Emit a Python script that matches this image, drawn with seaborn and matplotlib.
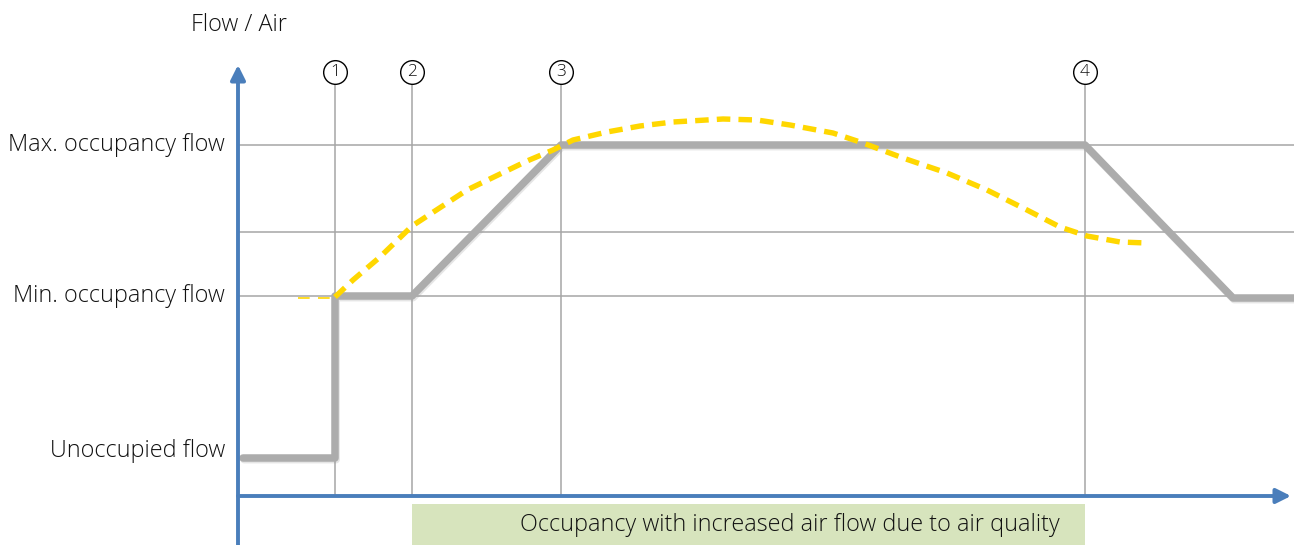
import numpy as np
import pandas as pd
import matplotlib
matplotlib.use("Agg")
import matplotlib.pyplot as plt
import matplotlib.patheffects as pe
from matplotlib.patches import Rectangle
import seaborn as sns

# Niveles de caudal (unidades del esquema: altura sobre el eje x)
level_names = ["Unoccupied flow", "Min. occupancy flow", "Max. occupancy flow"]
level_values = [38, 200, 351]
mid_level = 264

# Eventos (instantes marcados con circulos)
event_labels = ["1", "2", "3", "4"]
event_x = [97, 174, 323, 847]

# Caudal de aire (linea gris)
flow_x = [5, 97, 97, 174, 323, 847, 995, 1056]
flow_y = [38, 38, 200, 200, 351, 351, 198, 198]

# Calidad de aire (linea amarilla discontinua)
air_pre_x = [60, 97]
air_pre_y = [198, 198]
air_x = [97, 115, 142, 174, 229, 289, 315, 335, 369, 402, 435, 485, 519,
         552, 595, 625, 665, 709, 749, 789, 822, 849, 882, 909]
air_y = [199, 216, 239, 270, 306, 335, 346, 356, 364, 370, 374, 377, 376,
         371, 363, 353, 338, 323, 306, 286, 269, 260, 254, 253]

# Zona de ocupacion con caudal aumentado
zone_start, zone_end = 174, 847
zone_text = "Occupancy with increased air flow due to air quality"

sns.set_style("white")
plt.rcParams['font.family'] = ['Open Sans', 'DejaVu Sans']

text_color = '#111111'
grid_color = '#a6a6a6'
axis_color = '#4a7ebb'
fs = 16.8

fig = plt.figure(figsize=(12.94, 5.45), dpi=100)
ax = fig.add_axes([0, 0, 1, 1])
ax.set_xlim(-238, 1056)
ax.set_ylim(-49, 496)
ax.axis('off')

# Lineas horizontales de referencia
for y in level_values[1:] + [mid_level]:
    ax.plot([0, 1056], [y, y], color=grid_color, lw=1.1, zorder=1)

# Lineas verticales de eventos
for x in event_x:
    ax.plot([x, x], [0, 412], color=grid_color, lw=1.1, zorder=1)

# Banda verde
ax.add_patch(Rectangle((zone_start, -49), zone_end - zone_start, 41,
                       facecolor='#d7e4bd', edgecolor='none', zorder=1))
ax.text(822, -29, zone_text, ha='right', va='center', fontsize=fs,
        color=text_color, fontweight='light')

# Linea de caudal
flow_df = pd.DataFrame({'x': flow_x, 'y': flow_y})
sns.lineplot(data=flow_df, x='x', y='y', sort=False, estimator=None,
             color='#acacac', lw=5.4, ax=ax, zorder=3,
             path_effects=[pe.SimpleLineShadow(offset=(0.8, -1.2), shadow_color='#999999', alpha=0.25),
                           pe.Normal()])

# Linea de calidad de aire
pre_df = pd.DataFrame({'x': air_pre_x, 'y': air_pre_y})
sns.lineplot(data=pre_df, x='x', y='y', sort=False, estimator=None,
             color='#ffd700', lw=1.2, ax=ax, zorder=4, linestyle=(0, (7, 5)))
air_df = pd.DataFrame({'x': air_x, 'y': air_y})
sns.lineplot(data=air_df, x='x', y='y', sort=False, estimator=None,
             color='#ffd700', lw=3.9, ax=ax, zorder=4, linestyle=(0, (2.5, 1.5)))

# Ejes con flechas
ax.annotate('', xy=(0, 431), xytext=(0, -49),
            arrowprops=dict(arrowstyle='-|>', color=axis_color, lw=2.8,
                            mutation_scale=22, shrinkA=0, shrinkB=0), zorder=5)
ax.annotate('', xy=(1053, 0), xytext=(0, 0),
            arrowprops=dict(arrowstyle='-|>', color=axis_color, lw=2.8,
                            mutation_scale=22, shrinkA=0, shrinkB=0), zorder=5)

# Etiquetas de niveles
for name, y in zip(level_names, level_values):
    ax.text(-13, y + 7 if name.startswith("Unocc") else y, name, ha='right',
            va='center', fontsize=fs, color=text_color, fontweight='light')
ax.text(1, 471, "Flow / Air", ha='center', va='center', fontsize=fs,
        color=text_color, fontweight='light')

# Circulos de eventos
ax.scatter(event_x, [424] * len(event_x), s=290, facecolor='white',
           edgecolor='black', linewidth=1.0, zorder=6)
for lbl, x in zip(event_labels, event_x):
    ax.text(x, 424, lbl, ha='center', va='center', fontsize=12.5,
            color=text_color, zorder=7, fontweight='light')

fig.savefig('out.png', dpi=100)
plt.close(fig)
